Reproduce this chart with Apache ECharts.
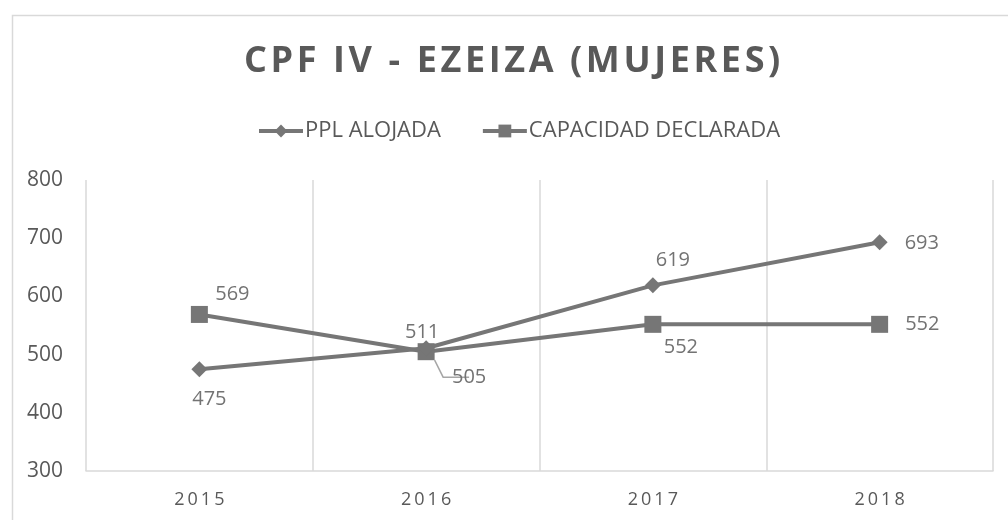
<!DOCTYPE html>
<html>
<head>
<meta charset="utf-8">
<script src="https://cdn.jsdelivr.net/npm/echarts@6/dist/echarts.min.js"></script>
<style>
  html, body { margin: 0; padding: 0; background: #ffffff; }
  #chart { width: 1008px; height: 520px; }
</style>
</head>
<body>
<div id="chart"></div>
<script>
const titleText = 'CPF IV - EZEIZA (MUJERES)';
const categories = ['2015', '2016', '2017', '2018'];
const seriesNames = ['PPL ALOJADA', 'CAPACIDAD DECLARADA'];
const pplAlojada = [475, 511, 619, 693];
const capacidadDeclarada = [569, 505, 552, 552];
const yTicks = { min: 300, max: 800, interval: 100 };

const LINE = '#767676';
const TEXT = '#595959';
const LABEL = '#737373';
const GRID = '#d9d9d9';
const FONT = '"Open Sans", "Liberation Sans", sans-serif';

function spaced(s, sep) { return s.split('').join(sep); }

// per-point label placement (style only)
const pplLabelCfg = [
  { position: 'bottom', offset: [10, 7] },
  { position: 'top', offset: [-4, 7] },
  { position: 'top', offset: [20, -2] },
  { position: 'right', offset: [12, 1] }
];
const capLabelCfg = [
  { position: 'top', offset: [33, 3] },
  { position: 'bottom', offset: [43, 2] },
  { position: 'bottom', offset: [28, -1] },
  { position: 'right', offset: [12, 0] }
];

const pplData = pplAlojada.map((v, i) => ({ value: v, label: pplLabelCfg[i] }));
const capData = capacidadDeclarada.map((v, i) => {
  const item = { value: v, label: capLabelCfg[i] };
  if (i === 1) {
    item.labelLine = { show: true, length2: 26, minTurnAngle: 0, smooth: false,
      lineStyle: { color: '#a6a6a6', width: 1.5 } };
  }
  return item;
});

const chart = echarts.init(document.getElementById('chart'), null, { renderer: 'canvas' });
chart.setOption({
  animation: false,
  backgroundColor: '#ffffff',
  graphic: [{
    type: 'rect', left: 10, top: 13, z: -10,
    shape: { width: 1100, height: 600 },
    style: { fill: 'none', stroke: '#d9d9d9', lineWidth: 1.5 }
  }],
  title: {
    text: spaced(titleText, '\u200A'),
    left: 239,
    top: 39,
    textStyle: { fontFamily: FONT, fontWeight: 'bold', fontSize: 36, color: TEXT }
  },
  legend: {
    top: 115,
    left: 252,
    itemWidth: 44,
    itemHeight: 16,
    itemGap: 40,
    lineStyle: { width: 4, color: LINE },
    textStyle: { fontFamily: FONT, fontSize: 22, color: TEXT, padding: [0, 0, 0, -3] },
    data: seriesNames
  },
  grid: { left: 86, right: 15, top: 180, bottom: 49 },
  xAxis: {
    type: 'category',
    data: categories,
    boundaryGap: true,
    axisLine: { lineStyle: { color: GRID, width: 1.5 } },
    axisTick: { show: false },
    splitLine: { show: true, lineStyle: { color: GRID, width: 1.5 } },
    axisLabel: {
      fontFamily: FONT, fontSize: 18, color: TEXT, margin: 20,
      formatter: v => spaced(v, '\u2009')
    }
  },
  yAxis: {
    type: 'value',
    min: yTicks.min, max: yTicks.max, interval: yTicks.interval,
    axisLine: { show: false },
    axisTick: { show: false },
    splitLine: { show: false },
    axisLabel: { fontFamily: FONT, fontSize: 21, color: TEXT, margin: 23 }
  },
  series: [
    {
      name: seriesNames[0],
      type: 'line',
      data: pplData,
      symbol: 'diamond',
      symbolSize: 16,
      lineStyle: { color: LINE, width: 4 },
      itemStyle: { color: LINE },
      label: { show: true, fontFamily: FONT, fontSize: 20, color: LABEL, distance: 5 },
      z: 3
    },
    {
      name: seriesNames[1],
      type: 'line',
      data: capData,
      symbol: 'rect',
      symbolSize: 17,
      lineStyle: { color: LINE, width: 4 },
      itemStyle: { color: LINE },
      label: { show: true, fontFamily: FONT, fontSize: 20, color: LABEL, distance: 5 },
      z: 2
    }
  ]
});
</script>
</body>
</html>
